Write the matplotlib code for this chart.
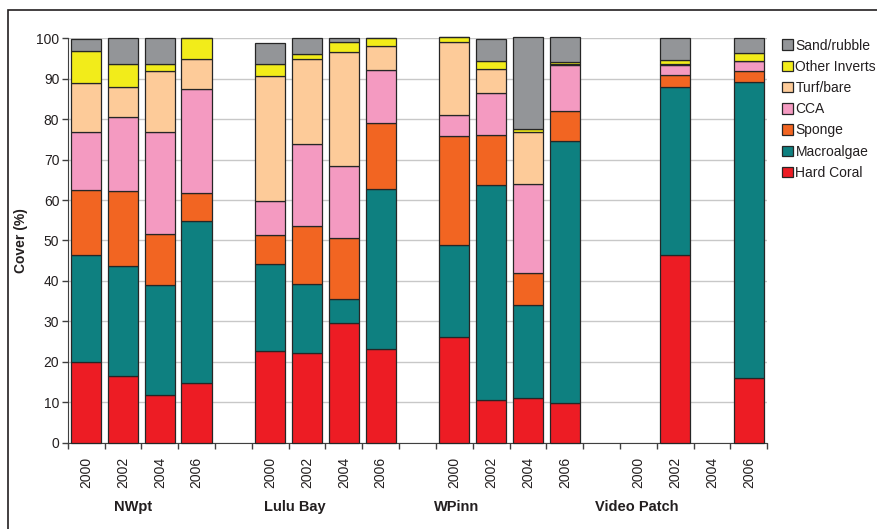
import numpy as np
import matplotlib.pyplot as plt
from matplotlib.patches import Patch, Rectangle

plt.rcParams['font.family'] = ['Liberation Sans', 'DejaVu Sans']

sites = ["NWpt", "Lulu Bay", "WPinn", "Video Patch"]
years = ["2000", "2002", "2004", "2006"]
categories = ["Hard Coral", "Macroalgae", "Sponge", "CCA", "Turf/bare", "Other Inverts", "Sand/rubble"]
colors = ["#ED1C24", "#0E8080", "#F26522", "#F49AC1", "#FDCB99", "#F2EC1A", "#939598"]

nan = np.nan
# one row per site-year, NWpt 2000..2006, Lulu Bay, WPinn, Video Patch
hard_coral = [20.0, 16.5, 11.8, 14.8, 22.7, 22.1, 29.5, 23.1, 26.2, 10.6, 11.0, 9.9, nan, 46.4, nan, 16.1]
macroalgae = [26.4, 27.3, 27.2, 39.9, 21.5, 17.1, 6.0, 39.6, 22.7, 53.1, 23.0, 64.7, nan, 41.5, nan, 73.0]
sponge = [16.1, 18.4, 12.7, 7.1, 7.2, 14.3, 15.0, 16.3, 27.0, 12.4, 7.9, 7.5, nan, 3.0, nan, 2.8]
cca = [14.4, 18.4, 25.2, 25.6, 8.4, 20.4, 18.0, 13.2, 5.1, 10.3, 22.1, 11.3, nan, 2.5, nan, 2.5]
turf = [12.0, 7.4, 15.0, 7.5, 30.9, 21.0, 28.0, 6.0, 18.2, 5.9, 12.9, 0.3, nan, 0.2, nan, 0.1]
other_inverts = [8.0, 5.6, 1.8, 5.2, 3.0, 1.2, 2.5, 1.8, 1.2, 2.1, 0.6, 0.4, nan, 1.0, nan, 1.8]
sand = [2.9, 6.4, 6.3, 0.0, 5.1, 3.9, 1.0, 0.0, 0.0, 5.4, 22.9, 6.1, nan, 5.4, nan, 3.8]

series = [hard_coral, macroalgae, sponge, cca, turf, other_inverts, sand]

# x positions: 4 bars per site, one empty slot between sites
x = np.array([s * 5 + j for s in range(len(sites)) for j in range(len(years))])

fig = plt.figure(figsize=(8.78, 5.29), dpi=100)
ax = fig.add_axes([67.7 / 878, 86.3 / 529, (767.3 - 67.7) / 878, 404.4 / 529])

bottom = np.zeros(len(x))
for vals, col in zip(series, colors):
    vals = np.array(vals)
    ax.bar(x, vals, bottom=bottom, width=0.82, color=col, edgecolor="#262626",
           linewidth=0.9, zorder=3, clip_on=False)
    bottom = bottom + vals

ax.set_xlim(-0.5, 18.5)
ax.set_ylim(0, 100)
ax.set_yticks(range(0, 101, 10))
ax.yaxis.grid(True, color="#C8C8C8", linewidth=1.0, zorder=0)
ax.tick_params(axis="y", labelsize=10, length=4, width=1, color="#404040", labelcolor="#231F20", pad=2)

ax.set_xticks(x)
ax.set_xticklabels([y for s in sites for y in years], rotation=90, fontsize=10, color="#231F20")
ax.tick_params(axis="x", which="major", length=0, pad=10)
ax.set_xticks(np.arange(-0.5, 19, 1), minor=True)
ax.tick_params(axis="x", which="minor", length=4, width=1, color="#404040")

for side in ["top", "right"]:
    ax.spines[side].set_visible(False)
for side in ["left", "bottom"]:
    ax.spines[side].set_color("#404040")

ax.set_ylabel("Cover (%)", fontsize=10, fontweight="bold", color="#231F20", labelpad=6)

site_x = [1.27, 5.66, 10.06, 14.95]
for sx, name in zip(site_x, sites):
    ax.text(sx, -0.16, name, transform=ax.get_xaxis_transform(), ha="center", va="center",
            fontsize=10.5, fontweight="bold", color="#231F20")

handles = [Patch(facecolor=c, edgecolor="#262626", linewidth=0.9) for c in colors]
fig.legend(handles[::-1], categories[::-1], loc="upper left", bbox_to_anchor=(776 / 878, 1 - 33 / 529),
           frameon=False, fontsize=10, handlelength=0.8, handleheight=0.8, handletextpad=0.2,
           labelspacing=0.52, borderaxespad=0, labelcolor="#231F20")

fig.patches.append(Rectangle((8 / 878, -0.1), 2, 1 - 10 / 529 + 0.1, transform=fig.transFigure,
                             fill=False, edgecolor="#231F20", linewidth=1.2))

fig.savefig("out.png", dpi=100)
